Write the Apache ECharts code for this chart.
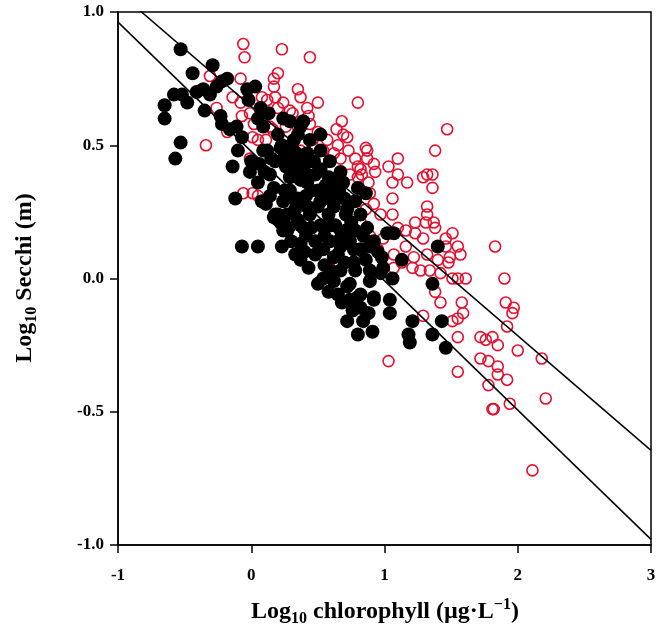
<!DOCTYPE html>
<html>
<head>
<meta charset="utf-8">
<script src="https://cdn.jsdelivr.net/npm/echarts@6/dist/echarts.min.js"></script>
<style>
  html, body { margin: 0; padding: 0; background: #fff; }
  #chart { width: 665px; height: 634px; }
</style>
</head>
<body>
<div id="chart"></div>
<script>
// values (log10 chlorophyll, log10 Secchi)
const blackPts = [
  [-0.53,0.86],[-0.29,0.80],[-0.44,0.77],[-0.18,0.75],[-0.22,0.74],[-0.58,0.69],[-0.52,0.69],[-0.48,0.66],
  [-0.41,0.70],[-0.36,0.71],[-0.31,0.69],[-0.26,0.72],[-0.65,0.65],[-0.65,0.60],[-0.35,0.63],[-0.23,0.61],
  [-0.22,0.58],[-0.16,0.56],[-0.11,0.57],[-0.07,0.53],[-0.53,0.51],[-0.10,0.48],[-0.57,0.45],[-0.03,0.71],
  [0.03,0.72],[-0.02,0.67],[0.07,0.64],[0.13,0.62],[0.05,0.60],[0.09,0.57],[0.20,0.54],[0.24,0.60],
  [0.29,0.59],[0.23,0.50],[0.32,0.52],[0.12,0.48],
  [-0.12,0.30],[0.08,0.29],[-0.07,0.12],[0.05,0.12],[0.23,0.12],[0.33,0.09],[-0.14,0.42],[-0.01,0.40],
  [0.05,0.36],[0.17,0.34],[0.20,0.24],[0.22,0.21],[0.28,0.19],[0.37,0.20],[0.42,0.27],[0.35,0.30],
  [0.24,0.29],[0.17,0.23],[0.20,0.22],[0.27,0.18],
  [0.39,0.59],[0.35,0.54],[0.09,0.48],[0.22,0.49],[0.33,0.47],[0.42,0.47],[0.52,0.41],[0.67,0.40],
  [0.69,0.36],[0.80,0.34],[0.86,0.32],[0.18,0.24],[0.24,0.18],[0.39,0.19],[0.50,0.27],[0.62,0.27],
  [0.72,0.26],[0.87,0.19],[1.02,0.17],[1.07,0.17],[1.40,0.12],[0.37,0.13],[0.54,0.11],[0.29,0.38],
  [0.42,0.36],[0.50,0.33],[0.62,0.30],[0.32,0.30],
  [1.13,0.07],[0.98,0.08],[1.06,0.00],[0.97,0.02],[0.89,0.03],[1.36,-0.02],[0.74,-0.02],[0.82,-0.06],
  [0.92,-0.07],[0.65,-0.06],[0.59,0.03],[0.67,0.15],[0.65,0.09],[0.77,0.11],[0.99,0.04],[1.04,-0.08],
  [1.04,-0.13],[1.21,-0.16],[1.43,-0.16],[0.87,-0.13],[1.18,-0.21],[1.36,-0.21],[0.80,-0.21],[0.91,-0.20],
  [1.19,-0.24],[1.46,-0.26],
  [0.43,0.04],[0.50,-0.02],[0.58,-0.05],[0.54,0.00],[0.72,-0.03],[0.74,-0.08],[0.80,-0.07],[0.82,-0.11],
  [0.88,-0.13],[0.72,-0.16],[0.92,-0.08],[0.89,-0.01],[0.67,0.03],[0.77,0.06],
  [0.44,0.44],[0.52,0.48],[0.59,0.44],[0.48,0.39],[0.56,0.35],[0.63,0.37],[0.41,0.31],[0.52,0.29],
  [0.58,0.24],[0.44,0.24],[0.52,0.20],[0.63,0.20],[0.71,0.18],[0.59,0.14],[0.48,0.14],[0.67,0.12],
  [0.74,0.14],[0.41,0.16],[0.33,0.26],[0.29,0.33],[0.37,0.37],[0.26,0.42],[0.18,0.44],[0.14,0.39],
  [0.33,0.42],[0.44,0.52],[0.52,0.54],[0.37,0.57],[0.78,0.29],[0.71,0.24],[0.82,0.24],[0.82,0.11],
  [0.89,0.12],[0.86,0.07],[0.78,0.03],[0.48,0.09],[0.37,0.07],
  [0.00,0.44],[0.06,0.43],[0.10,0.40],[0.15,0.45],[0.25,0.46],[0.30,0.44],[0.38,0.44],[0.40,0.40],
  [0.45,0.33],[0.55,0.30],[0.60,0.33],[0.66,0.33],[0.70,0.30],[0.75,0.21],[0.68,0.17],[0.60,0.20],
  [0.55,0.16],[0.45,0.19],[0.35,0.22],[0.30,0.14],[0.40,0.10],[0.55,0.05],[0.62,0.08],[0.70,0.06],
  [0.84,0.16],[0.78,0.18],[0.95,0.10],[0.92,0.14],[0.62,-0.01],[0.68,-0.09],[0.76,-0.12],[0.84,-0.16],
  [0.11,0.28],[0.14,0.31],[0.27,0.24],[0.30,0.50],[0.35,0.40],[0.47,0.44],[0.58,0.38],[0.25,0.33]
];

const redPts = [
  [-0.06,0.88],[-0.05,0.83],[0.23,0.86],[0.44,0.83],[-0.31,0.76],[-0.08,0.75],[0.17,0.75],[0.20,0.77],
  [0.17,0.72],[0.35,0.71],[0.37,0.68],[0.50,0.66],[-0.14,0.68],[0.08,0.68],[0.18,0.68],[0.24,0.66],
  [-0.26,0.64],[-0.07,0.61],[0.31,0.62],[0.43,0.61],[0.42,0.64],[0.68,0.59],[0.64,0.56],[0.72,0.53],
  [0.57,0.52],[-0.34,0.50],[0.05,0.52],[0.11,0.52],[0.01,0.53],[0.47,0.49],[0.62,0.47],[0.67,0.45],
  [0.52,0.45],[-0.01,0.45],[-0.08,0.66],[-0.01,0.62],[0.02,0.58],[-0.18,0.55],[0.12,0.67],[0.29,0.63],
  [0.16,0.56],[0.20,0.64],[0.26,0.57],[0.35,0.57],[0.80,0.66],[0.69,0.54],[0.46,0.52],[0.54,0.48],
  [0.65,0.50],[0.73,0.48],[0.86,0.49],[0.87,0.48],[0.78,0.45],[0.87,0.45],[1.10,0.45],[1.38,0.48],
  [0.80,0.42],[0.92,0.43],[1.03,0.42],[0.82,0.41],[0.93,0.40],[1.32,0.39],[1.36,0.39],[1.29,0.38],
  [1.17,0.36],[1.06,0.36],[0.88,0.36],[0.80,0.38],[1.36,0.34],[0.44,0.58],[0.50,0.55],[0.74,0.39],
  [0.83,0.39],[1.10,0.39],[0.89,0.32],[1.06,0.30],[0.92,0.28],[0.97,0.24],[1.06,0.24],[0.86,0.26],
  [0.82,0.21],[0.89,0.16],[0.95,0.11],[0.99,0.15],[1.10,0.19],[1.16,0.18],[1.23,0.21],[1.31,0.21],
  [1.37,0.21],[1.32,0.27],[1.32,0.24],[1.23,0.17],[1.29,0.15],[1.38,0.19],[1.46,0.15],[1.51,0.17],
  [1.55,0.12],[1.46,0.12],[1.49,0.08],[1.57,0.09],[1.40,0.07],[1.32,0.09],[1.22,0.08],[1.16,0.12],
  [1.21,0.04],[1.27,0.03],[1.34,0.03],[1.42,0.02],[1.51,0.00],[1.61,0.00],[1.13,0.06],[1.07,0.04],
  [1.07,0.09],[1.47,0.56],[1.83,0.12],[1.48,0.06],[1.55,0.00],[1.90,0.00],[1.38,-0.05],[1.42,-0.09],
  [1.58,-0.09],[1.91,-0.09],[1.97,-0.11],[1.96,-0.13],[1.92,-0.18],[1.59,-0.13],[1.55,-0.15],[1.51,-0.16],
  [1.29,-0.14],[1.55,-0.22],[1.72,-0.22],[1.76,-0.23],[1.81,-0.22],[1.85,-0.25],[2.00,-0.27],[2.18,-0.30],
  [1.72,-0.30],[1.78,-0.31],[1.85,-0.33],[1.85,-0.36],[1.92,-0.38],[1.78,-0.40],[1.94,-0.47],[2.21,-0.45],
  [1.81,-0.49],[1.82,-0.49],[1.55,-0.35],[2.11,-0.72],[1.03,-0.31],[-0.06,0.32],[0.01,0.32],[0.05,0.31],
  [0.59,0.04],[0.89,0.12],[0.71,0.09],[0.37,0.48],[0.29,0.50],[0.22,0.46],[0.14,0.57]
];

// the two fitted lines, end points read at x = -1 and x = 3
const upperLine = [[-1, 1.076], [3, -0.645]];
const lowerLine = [[-1, 0.962], [3, -0.979]];

const xTicks = [-1, 0, 1, 2, 3];
const yTicks = [-1.0, -0.5, 0.0, 0.5, 1.0];

const serif = '"Liberation Serif", "Times New Roman", serif';

const chart = echarts.init(document.getElementById('chart'));

const axisBase = {
  axisLine: { show: true, onZero: false, lineStyle: { color: '#000', width: 1.5 } },
  axisTick: { show: true, inside: false, length: 8, lineStyle: { color: '#000', width: 1.5 } },
  splitLine: { show: false },
};

const titleRich = {
  a: { fontFamily: serif, fontWeight: 'bold', fontSize: 24, lineHeight: 30, fill: '#000' },
  s: { fontFamily: serif, fontWeight: 'bold', fontSize: 16, lineHeight: 30, verticalAlign: 'bottom', padding: [11, 0, 0, 0], fill: '#000' },
  p: { fontFamily: serif, fontWeight: 'bold', fontSize: 16, lineHeight: 30, verticalAlign: 'top', padding: [0, 0, 9, 0], fill: '#000' },
};

chart.setOption({
  animation: false,
  backgroundColor: '#fff',
  grid: {
    left: 118, right: 14, top: 12, bottom: 89,
    show: true, borderColor: '#000', borderWidth: 1.5,
  },
  xAxis: Object.assign({}, axisBase, {
    type: 'value', min: -1, max: 3, interval: 1,
    axisLabel: {
      margin: 22, color: '#000', fontFamily: serif, fontWeight: 'bold', fontSize: 17,
      formatter: (v) => xTicks.includes(v) ? String(v) : '',
    },
  }),
  yAxis: Object.assign({}, axisBase, {
    type: 'value', min: -1, max: 1, interval: 0.5,
    axisLabel: {
      margin: 14, color: '#000', fontFamily: serif, fontWeight: 'bold', fontSize: 17,
      formatter: (v) => yTicks.includes(v) ? v.toFixed(1) : '',
    },
  }),
  graphic: [
    {
      type: 'text', x: 385, y: 612,
      style: {
        text: '{a|Log}{s|10}{a| chlorophyll (µg·L}{p|−1}{a|)}',
        align: 'center', verticalAlign: 'middle',
        rich: titleRich,
      },
    },
    {
      type: 'text', x: 25, y: 278, rotation: Math.PI / 2,
      style: {
        text: '{a|Log}{s|10}{a| Secchi (m)}',
        align: 'center', verticalAlign: 'middle',
        rich: titleRich,
      },
    },
  ],
  series: [
    {
      type: 'scatter', data: redPts, symbol: 'circle', symbolSize: 11,
      itemStyle: { color: 'rgba(0,0,0,0)', borderColor: '#e0102f', borderWidth: 1.6, opacity: 1 },
      z: 2,
    },
    {
      type: 'scatter', data: blackPts, symbol: 'circle', symbolSize: 14,
      itemStyle: { color: '#000', opacity: 1 },
      z: 3,
    },
    {
      type: 'line', data: upperLine, symbol: 'none', clip: true,
      lineStyle: { color: '#000', width: 1.5 }, z: 4,
    },
    {
      type: 'line', data: lowerLine, symbol: 'none', clip: true,
      lineStyle: { color: '#000', width: 1.5 }, z: 4,
    },
  ],
});
</script>
</body>
</html>
